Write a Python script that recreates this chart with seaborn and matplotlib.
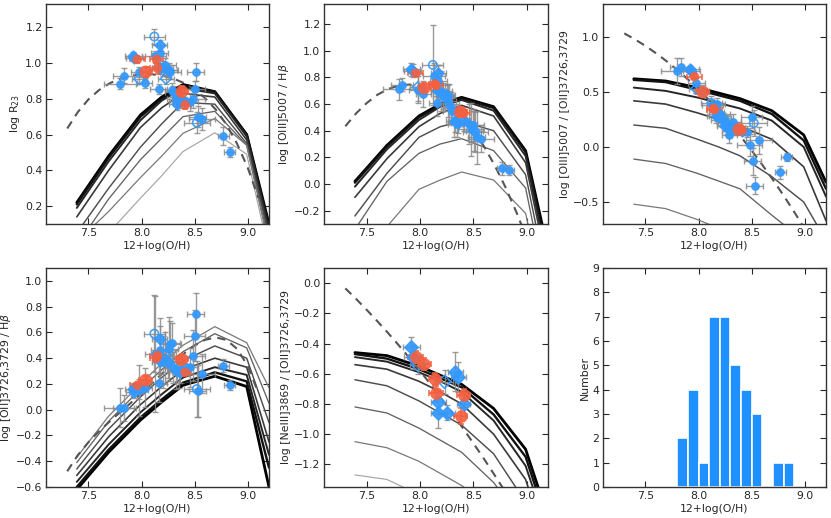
import numpy as np
import pandas as pd
import matplotlib
matplotlib.use("Agg")
import matplotlib.pyplot as plt
import seaborn as sns

# ---------------- model grids (12+log(O/H) nodes) ----------------
model_oh = [7.39, 7.69, 7.99, 8.19, 8.39, 8.69, 8.99, 9.20]

r23_models = [
    [0.22, 0.48, 0.71, 0.81, 0.88, 0.84, 0.60, 0.10],
    [0.21, 0.47, 0.70, 0.80, 0.87, 0.84, 0.60, 0.09],
    [0.19, 0.45, 0.68, 0.79, 0.86, 0.83, 0.59, 0.07],
    [0.14, 0.40, 0.64, 0.75, 0.83, 0.81, 0.57, 0.05],
    [0.05, 0.30, 0.53, 0.66, 0.78, 0.77, 0.55, 0.03],
    [-0.02, 0.24, 0.46, 0.58, 0.70, 0.73, 0.54, 0.00],
    [0.00, 0.17, 0.36, 0.48, 0.607, 0.69, 0.54, -0.03],
    [-0.15, 0.05, 0.245, 0.37, 0.505, 0.61, 0.49, -0.06],
]
o3hb_models = [
    [0.02, 0.29, 0.51, 0.60, 0.65, 0.58, 0.25, -0.50],
    [0.01, 0.28, 0.50, 0.59, 0.64, 0.57, 0.24, -0.55],
    [-0.02, 0.26, 0.48, 0.58, 0.63, 0.55, 0.21, -0.60],
    [-0.10, 0.19, 0.43, 0.53, 0.59, 0.51, 0.16, -0.65],
    [-0.24, 0.08, 0.35, 0.43, 0.47, 0.40, 0.07, -0.75],
    [-0.34, 0.02, 0.23, 0.30, 0.34, 0.25, -0.03, -0.85],
    [-0.65, -0.32, -0.04, 0.03, 0.09, 0.03, -0.22, -1.00],
]
o32_models = [
    [0.62, 0.60, 0.54, 0.49, 0.44, 0.33, 0.11, -0.32],
    [0.61, 0.59, 0.52, 0.47, 0.42, 0.30, 0.06, -0.38],
    [0.54, 0.51, 0.45, 0.40, 0.35, 0.24, 0.00, -0.45],
    [0.42, 0.39, 0.31, 0.25, 0.19, 0.07, -0.18, -0.67],
    [0.20, 0.17, 0.07, 0.00, -0.08, -0.27, -0.50, -0.85],
    [-0.11, -0.15, -0.24, -0.31, -0.38, -0.62, -0.85, -1.20],
    [-0.52, -0.56, -0.66, -0.74, -0.82, -0.98, -1.15, -1.30],
]
o2hb_models = [
    [-0.62, -0.33, -0.08, 0.06, 0.19, 0.26, 0.18, -0.60],
    [-0.60, -0.31, -0.06, 0.08, 0.21, 0.29, 0.22, -0.45],
    [-0.56, -0.27, -0.02, 0.12, 0.25, 0.33, 0.27, -0.35],
    [-0.51, -0.21, 0.04, 0.18, 0.31, 0.40, 0.33, -0.25],
    [-0.46, -0.15, 0.10, 0.25, 0.38, 0.495, 0.40, -0.10],
    [-0.41, -0.09, 0.16, 0.31, 0.45, 0.59, 0.48, 0.05],
    [-0.37, -0.05, 0.20, 0.36, 0.50, 0.645, 0.52, 0.17],
]
ne3o2_models = [
    [-0.46, -0.48, -0.55, -0.61, -0.67, -0.83, -1.10, -1.55],
    [-0.47, -0.50, -0.57, -0.63, -0.69, -0.87, -1.15, -1.60],
    [-0.49, -0.52, -0.59, -0.65, -0.72, -0.91, -1.21, -1.65],
    [-0.54, -0.57, -0.65, -0.72, -0.80, -1.00, -1.30, -1.75],
    [-0.64, -0.68, -0.78, -0.86, -0.94, -1.13, -1.45, -1.90],
    [-0.82, -0.86, -0.96, -1.04, -1.12, -1.32, -1.60, -2.00],
    [-1.05, -1.09, -1.18, -1.26, -1.34, -1.50, -1.80, -2.20],
    [-1.27, -1.30, -1.40, -1.48, -1.56, -1.70, -2.00, -2.40],
]

# ---------------- empirical calibrations (dashed) ----------------
calib_oh = [7.3, 7.4, 7.5, 7.6, 7.7, 7.8, 7.9, 8.0, 8.1, 8.2,
            8.3, 8.4, 8.5, 8.6, 8.7, 8.8, 8.9, 9.0, 9.1]
r23_calib = [0.634, 0.726, 0.797, 0.849, 0.887, 0.913, 0.929, 0.937, 0.937, 0.929,
             0.913, 0.888, 0.852, 0.803, 0.739, 0.655, 0.548, 0.414, 0.246]
o3hb_calib = [0.433, 0.529, 0.607, 0.669, 0.712, 0.738, 0.746, 0.736, 0.707, 0.660,
              0.594, 0.509, 0.405, 0.282, 0.140, -0.022, -0.204, -0.406, -0.628]
o32_calib = [1.033, 0.979, 0.919, 0.852, 0.779, 0.700, 0.615, 0.523, 0.425, 0.320,
             0.209, 0.092, -0.032, -0.162, -0.298, -0.440, -0.589, -0.745, -0.906]
o2hb_calib = [-0.478, -0.352, -0.252, -0.167, -0.091, -0.018, 0.054, 0.129, 0.206, 0.285,
              0.363, 0.436, 0.499, 0.543, 0.561, 0.541, 0.472, 0.340, 0.130]
ne3o2_calib = [-0.035, -0.104, -0.177, -0.252, -0.330, -0.411, -0.495, -0.581, -0.671, -0.764,
               -0.860, -0.958, -1.060, -1.164, -1.272, -1.382, -1.50, -1.62, -1.75]

# ---------------- galaxies: filled blue circles ----------------
circ_oh = [7.80, 7.83, 7.98, 8.03, 8.13, 8.16, 8.17, 8.20, 8.22, 8.26, 8.27, 8.29,
           8.30, 8.32, 8.35, 8.46, 8.48, 8.50, 8.51, 8.53, 8.57, 8.77, 8.83]
circ_oh_err = [0.15, 0.10, 0.08, 0.07, 0.10, 0.08, 0.08, 0.10, 0.10, 0.08, 0.10, 0.07,
               0.08, 0.08, 0.09, 0.07, 0.12, 0.10, 0.08, 0.08, 0.12, 0.05, 0.05]
circ_r23 = [0.885, 0.93, 0.95, 0.889, 1.037, 0.855, 1.056, 0.97, 0.99, 0.96, 0.95, 0.85,
            0.84, 0.80, 0.79, 0.78, 0.80, 0.857, 0.95, 0.70, 0.687, 0.593, 0.502]
circ_r23_err = [0.03, 0.04, 0.03, 0.03, 0.03, 0.03, 0.04, 0.04, 0.04, 0.04, 0.04, 0.04,
                0.03, 0.04, 0.04, 0.05, 0.05, 0.04, 0.05, 0.06, 0.06, 0.05, 0.03]
circ_o3hb = [0.71, 0.745, 0.708, 0.675, 0.808, 0.607, 0.775, 0.70, 0.66, 0.625, 0.60, 0.567,
             0.55, 0.47, 0.45, 0.45, 0.41, 0.44, 0.40, 0.35, 0.34, 0.117, 0.105]
circ_o3hb_err = [0.08, 0.05, 0.10, 0.10, 0.10, 0.10, 0.12, 0.15, 0.10, 0.12, 0.15, 0.12,
                 0.10, 0.12, 0.10, 0.15, 0.20, 0.12, 0.15, 0.20, 0.10, 0.05, 0.04]
circ_o32 = [0.69, 0.73, 0.58, 0.51, 0.38, 0.28, 0.39, 0.30, 0.25, 0.23, 0.20, 0.11,
            0.15, 0.23, 0.17, 0.14, 0.02, 0.27, -0.13, -0.35, 0.06, -0.23, -0.09]
circ_o32_err = [0.12, 0.08, 0.05, 0.05, 0.05, 0.06, 0.06, 0.06, 0.07, 0.06, 0.08, 0.07,
                0.06, 0.07, 0.06, 0.05, 0.10, 0.10, 0.12, 0.08, 0.12, 0.06, 0.04]
circ_o2hb = [0.016, 0.016, 0.15, 0.17, 0.43, 0.21, 0.46, 0.37, 0.40, 0.47, 0.51, 0.52,
             0.33, 0.31, 0.29, 0.33, 0.42, 0.575, 0.746, 0.145, 0.28, 0.34, 0.19]
circ_o2hb_err = [0.15, 0.10, 0.20, 0.15, 0.45, 0.15, 0.25, 0.20, 0.20, 0.25, 0.18, 0.15,
                 0.12, 0.15, 0.12, 0.15, 0.20, 0.20, 0.16, 0.20, 0.15, 0.05, 0.04]

# ---------------- galaxies: open blue circles ----------------
ocirc_oh = [8.12, 8.52]
ocirc_oh_err = [0.10, 0.12]
ocirc_r23 = [1.148, 0.667]
ocirc_r23_err = [0.04, 0.06]
ocirc_o3hb = [0.893, 0.39]
ocirc_o3hb_err = [0.30, 0.15]
ocirc_o32 = [0.40, 0.218]
ocirc_o32_err = [0.06, 0.12]
ocirc_o2hb = [0.59, 0.16]
ocirc_o2hb_err = [0.30, 0.22]

# ---------------- galaxies: filled blue diamonds ----------------
diam_oh = [7.92, 7.93, 8.17, 8.17, 8.25, 8.33, 8.36, 8.41]
diam_oh_err = [0.08, 0.08, 0.07, 0.07, 0.08, 0.07, 0.07, 0.06]
diam_r23 = [1.04, 1.03, 1.10, 0.97, 0.96, 0.77, 0.79, 0.78]
diam_r23_err = [0.02, 0.02, 0.03, 0.03, 0.03, 0.03, 0.03, 0.03]
diam_o3hb = [0.86, 0.85, 0.83, 0.70, 0.67, 0.47, 0.46, 0.48]
diam_o3hb_err = [0.05, 0.05, 0.06, 0.06, 0.08, 0.08, 0.08, 0.08]
diam_o32 = [0.71, 0.69, 0.32, 0.28, 0.19, 0.17, 0.16, 0.15]
diam_o32_err = [0.03, 0.03, 0.04, 0.04, 0.04, 0.04, 0.04, 0.04]
diam_o2hb = [0.16, 0.14, 0.55, 0.38, 0.37, 0.30, 0.29, 0.33]
diam_o2hb_err = [0.05, 0.05, 0.10, 0.10, 0.12, 0.08, 0.08, 0.06]
diam_ne3o2 = [-0.42, -0.49, -0.785, -0.857, -0.857, -0.587, -0.62, -0.80]
diam_ne3o2_err = [0.06, 0.08, 0.08, 0.10, 0.05, 0.13, 0.10, 0.08]

# ---------------- galaxies: open blue diamonds ----------------
odiam_oh = [7.98, 8.23]
odiam_oh_err = [0.07, 0.08]
odiam_r23 = [0.91, 0.913]
odiam_r23_err = [0.03, 0.03]
odiam_o3hb = [0.725, 0.66]
odiam_o3hb_err = [0.10, 0.08]
odiam_o32 = [0.53, 0.26]
odiam_o32_err = [0.04, 0.05]
odiam_o2hb = [0.16, 0.42]
odiam_o2hb_err = [0.08, 0.10]
odiam_ne3o2 = [-0.54, -0.653]
odiam_ne3o2_err = [0.06, 0.08]

# ---------------- red points ----------------
red_oh = [7.96, 8.04, 8.14, 8.15, 8.38, 8.41]
red_oh_err = [0.07, 0.06, 0.06, 0.07, 0.06, 0.06]
red_y_err = [0.02, 0.03, 0.02, 0.03, 0.03, 0.02]
red_r23 = [1.02, 0.95, 1.02, 0.97, 0.84, 0.765]
red_o3hb = [0.83, 0.72, 0.75, 0.74, 0.54, 0.53]
red_o32 = [0.64, 0.50, 0.35, 0.34, 0.16, 0.15]
red_o2hb = [0.19, 0.23, 0.40, 0.42, 0.39, 0.29]
red_ne3o2 = [-0.49, -0.534, -0.633, -0.73, -0.88, -0.743]
red_ne3o2_err = [0.04, 0.04, 0.04, 0.05, 0.05, 0.04]

# ---------------- metallicity histogram ----------------
hist_edges = [7.8, 7.9, 8.0, 8.1, 8.2, 8.3, 8.4, 8.5, 8.6, 8.7, 8.8, 8.9]
hist_counts = [2, 4, 1, 7, 7, 5, 4, 3, 0, 1, 1]

# ---------------- style ----------------
BLUE = "#3399ff"
RED = "#f4603f"
ERR = "#8a8a8a"
line_colors = ["#000000", "#111111", "#262626", "#3a3a3a", "#4e4e4e",
               "#626262", "#787878", "#a5a5a5"]
line_widths = [2.0, 1.7, 1.4, 1.2, 1.05, 0.95, 0.9, 0.85]
red_sizes = [40, 75, 40, 40, 75, 40]

sns.set_style("ticks")
plt.rcParams.update({
    "font.family": ["DejaVu Sans"],
    "font.size": 7.8,
    "axes.edgecolor": "#333333",
    "axes.linewidth": 1.0,
    "xtick.direction": "in",
    "ytick.direction": "in",
    "xtick.top": True,
    "ytick.right": True,
    "xtick.major.size": 4,
    "ytick.major.size": 4,
    "xtick.major.pad": 3,
    "ytick.major.pad": 2.5,
    "xtick.labelsize": 7.8,
    "ytick.labelsize": 7.8,
    "axes.labelsize": 7.8,
})

fig = plt.figure(figsize=(8.31, 5.18), dpi=100)
W, H = 831.0, 518.0
cols = [(46, 269), (324, 548), (603, 826)]
rows = [(4, 224), (268, 487)]
axes = []
for r in rows:
    for c in cols:
        axes.append(fig.add_axes([c[0] / W, 1 - r[1] / H, (c[1] - c[0]) / W, (r[1] - r[0]) / H]))


def draw_models(ax, models, calib):
    for i, curve in enumerate(models):
        sns.lineplot(x=model_oh, y=curve, ax=ax, color=line_colors[i], lw=line_widths[i],
                     sort=False, estimator=None, zorder=2)
    sns.lineplot(x=calib_oh, y=calib, ax=ax, color="#555555", lw=1.5, sort=False,
                 estimator=None, zorder=2.5)
    ax.lines[-1].set_dashes([4, 3])


def draw_group(ax, x, y, xerr, yerr, marker, size, filled, color=BLUE, ecolor=ERR):
    ax.errorbar(x, y, xerr=xerr, yerr=yerr, fmt="none", ecolor=ecolor, elinewidth=1.0,
                capsize=2, capthick=1.0, alpha=0.85, zorder=3)
    sns.scatterplot(x=x, y=y, ax=ax, marker=marker, s=size, color=color,
                    edgecolor=color, linewidth=1.2, alpha=0.9, zorder=4, legend=False)
    if not filled:
        ax.collections[-1].set_facecolor("none")


def draw_red(ax, y, yerr, sizes):
    ax.errorbar(red_oh, y, xerr=red_oh_err, yerr=yerr, fmt="none", ecolor=RED,
                elinewidth=1.2, capsize=2, capthick=1.2, alpha=0.9, zorder=3.5)
    sns.scatterplot(x=red_oh, y=y, ax=ax, marker="o", s=sizes,
                    color=RED, edgecolor=RED, alpha=0.9, zorder=4.5, legend=False)


def finish(ax, ylim, yticks, ylabel):
    ax.set_xlim(7.1, 9.2)
    ax.set_ylim(*ylim)
    ax.set_xticks([7.5, 8.0, 8.5, 9.0])
    ax.set_yticks(yticks)
    ax.set_xlabel("12+log(O/H)", labelpad=2)
    ax.set_ylabel(ylabel, labelpad=2)
    for s in ax.spines.values():
        s.set_visible(True)


panels = [
    (axes[0], r23_models, r23_calib, circ_r23, circ_r23_err, ocirc_r23, ocirc_r23_err,
     diam_r23, diam_r23_err, odiam_r23, odiam_r23_err, red_r23,
     (0.1, 1.33), [0.2, 0.4, 0.6, 0.8, 1.0, 1.2], r"log R$_{23}$"),
    (axes[1], o3hb_models, o3hb_calib, circ_o3hb, circ_o3hb_err, ocirc_o3hb, ocirc_o3hb_err,
     diam_o3hb, diam_o3hb_err, odiam_o3hb, odiam_o3hb_err, red_o3hb,
     (-0.3, 1.35), [-0.2, 0.0, 0.2, 0.4, 0.6, 0.8, 1.0, 1.2], r"log [OIII]5007 / H$\beta$"),
    (axes[2], o32_models, o32_calib, circ_o32, circ_o32_err, ocirc_o32, ocirc_o32_err,
     diam_o32, diam_o32_err, odiam_o32, odiam_o32_err, red_o32,
     (-0.7, 1.3), [-0.5, 0.0, 0.5, 1.0], "log [OIII]5007 / [OII]3726,3729"),
    (axes[3], o2hb_models, o2hb_calib, circ_o2hb, circ_o2hb_err, ocirc_o2hb, ocirc_o2hb_err,
     diam_o2hb, diam_o2hb_err, odiam_o2hb, odiam_o2hb_err, red_o2hb,
     (-0.6, 1.1), [-0.6, -0.4, -0.2, 0.0, 0.2, 0.4, 0.6, 0.8, 1.0], r"log [OII]3726,3729 / H$\beta$"),
]

for (ax, models, calib, cy, cye, ocy, ocye, dy, dye, ody, odye, ry, ylim, yt, lab) in panels:
    draw_models(ax, models, calib)
    draw_group(ax, circ_oh, cy, circ_oh_err, cye, "o", 26, True)
    draw_group(ax, ocirc_oh, ocy, ocirc_oh_err, ocye, "o", 36, False)
    draw_group(ax, diam_oh, dy, diam_oh_err, dye, "D", 30, True)
    draw_group(ax, odiam_oh, ody, odiam_oh_err, odye, "D", 32, False)
    draw_red(ax, ry, red_y_err, red_sizes)
    finish(ax, ylim, yt, lab)

# NeIII / OII panel
ax = axes[4]
draw_models(ax, ne3o2_models, ne3o2_calib)
draw_group(ax, diam_oh, diam_ne3o2, diam_oh_err, diam_ne3o2_err, "D", 45, True)
draw_group(ax, odiam_oh, odiam_ne3o2, odiam_oh_err, odiam_ne3o2_err, "D", 45, False)
draw_red(ax, red_ne3o2, red_ne3o2_err, 70)
finish(ax, (-1.35, 0.1), [-1.2, -1.0, -0.8, -0.6, -0.4, -0.2, 0.0],
       "log [NeIII]3869 / [OII]3726,3729")

# histogram
ax = axes[5]
centers = [(a + b) / 2 for a, b in zip(hist_edges[:-1], hist_edges[1:])]
sns.histplot(x=centers, weights=hist_counts, bins=hist_edges, ax=ax, color="#1e90ff",
             edgecolor="white", linewidth=1.2, alpha=1.0)
finish(ax, (0, 9), list(range(10)), "Number")

fig.savefig("out.png", dpi=100)
